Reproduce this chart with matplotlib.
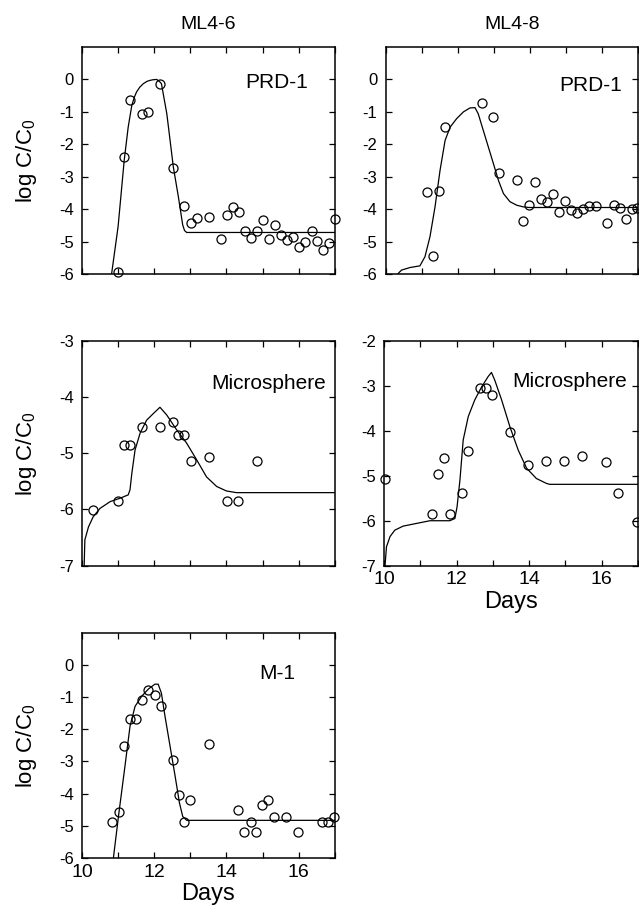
import matplotlib
matplotlib.use('Agg')
import matplotlib.pyplot as plt
from matplotlib.ticker import MultipleLocator

plt.rcParams['font.family'] = ['Liberation Sans', 'DejaVu Sans']
plt.rcParams['axes.unicode_minus'] = False

# ML4-6, PRD-1
a_day = [11.01, 11.17, 11.33, 11.66, 11.84, 12.17, 12.52, 12.83, 13.01, 13.18, 13.51,
         13.84, 14.01, 14.18, 14.34, 14.51, 14.68, 14.84, 15.00, 15.18, 15.35, 15.50,
         15.67, 15.85, 16.00, 16.18, 16.36, 16.50, 16.67, 16.83, 17.00]
a_obs = [-5.93, -2.40, -0.62, -1.08, -1.01, -0.13, -2.74, -3.89, -4.43, -4.28, -4.24,
         -4.91, -4.19, -3.94, -4.10, -4.68, -4.89, -4.68, -4.33, -4.91, -4.48, -4.80,
         -4.95, -4.86, -5.17, -5.02, -4.68, -4.98, -5.26, -5.04, -4.32]
a_fit_day = [10.82, 11.00, 11.17, 11.28, 11.38, 11.45, 11.51, 11.60, 11.70, 11.80, 11.88,
             11.97, 12.07, 12.16, 12.20, 12.35, 12.53, 12.67, 12.79, 12.84, 12.90, 17.0]
a_fit = [-6.0, -4.54, -2.49, -1.47, -0.80, -0.55, -0.39, -0.24, -0.13, -0.06, -0.03,
         -0.01, 0.0, -0.08, -0.13, -1.06, -2.70, -3.62, -4.49, -4.66, -4.72, -4.72]

# ML4-8, PRD-1
b_day = [11.14, 11.31, 11.48, 11.65, 12.67, 12.98, 13.15, 13.65, 13.81, 13.98, 14.15,
         14.31, 14.48, 14.65, 14.81, 14.98, 15.15, 15.31, 15.49, 15.66, 15.84, 16.16,
         16.33, 16.50, 16.68, 16.83, 16.99]
b_obs = [-3.48, -5.46, -3.44, -1.48, -0.72, -1.16, -2.89, -3.09, -4.37, -3.86, -3.16,
         -3.70, -3.79, -3.53, -4.10, -3.75, -4.03, -4.13, -4.00, -3.90, -3.90, -4.44,
         -3.88, -3.96, -4.32, -4.01, -3.96]
b_fit_day = [10.26, 10.44, 10.68, 10.95, 11.09, 11.23, 11.37, 11.51, 11.65, 11.79, 11.97,
             12.16, 12.34, 12.48, 12.57, 12.71, 12.85, 12.99, 13.13, 13.27, 13.45, 13.64,
             13.82, 13.98, 17.0]
b_fit = [-6.08, -5.88, -5.80, -5.75, -5.47, -4.85, -3.93, -2.80, -1.88, -1.47, -1.21,
         -1.00, -0.88, -0.87, -1.06, -1.57, -2.08, -2.59, -3.11, -3.52, -3.77, -3.88,
         -3.93, -3.95, -3.95]

# ML4-6, Microsphere
c_day = [10.31, 11.00, 11.16, 11.33, 11.66, 12.17, 12.51, 12.67, 12.83, 13.01, 13.51,
         14.01, 14.33, 14.84]
c_obs = [-6.01, -5.85, -4.85, -4.85, -4.54, -4.54, -4.44, -4.67, -4.67, -5.14, -5.06,
         -5.85, -5.85, -5.14]
c_fit_day = [10.06, 10.08, 10.18, 10.31, 10.50, 10.78, 11.05, 11.28, 11.33, 11.38, 11.47,
             11.61, 11.79, 11.98, 12.16, 12.35, 12.62, 12.90, 13.18, 13.45, 13.73, 14.00,
             14.28, 17.0]
c_fit = [-7.0, -6.54, -6.31, -6.13, -5.98, -5.86, -5.80, -5.74, -5.65, -5.36, -4.94,
         -4.64, -4.41, -4.29, -4.18, -4.32, -4.58, -4.82, -5.12, -5.42, -5.59, -5.67,
         -5.70, -5.70]

# ML4-8, Microsphere
d_day = [10.02, 11.32, 11.47, 11.65, 11.82, 12.15, 12.32, 12.64, 12.80, 12.98, 13.47,
         13.97, 14.47, 14.97, 15.46, 16.13, 16.46, 16.98]
d_obs = [-5.08, -5.86, -4.95, -4.60, -5.86, -5.38, -4.44, -3.04, -3.04, -3.20, -4.03,
         -4.77, -4.68, -4.68, -4.57, -4.70, -5.38, -6.02]
d_fit_day = [10.02, 10.06, 10.16, 10.29, 10.52, 10.89, 11.26, 11.81, 11.95, 12.01, 12.09,
             12.18, 12.32, 12.50, 12.69, 12.87, 12.96, 13.05, 13.24, 13.47, 13.70, 13.93,
             14.20, 14.48, 14.57, 17.0]
d_fit = [-7.0, -6.58, -6.35, -6.21, -6.12, -6.06, -6.00, -6.00, -5.95, -5.69, -5.09,
         -4.20, -3.68, -3.31, -3.02, -2.79, -2.70, -2.87, -3.31, -3.91, -4.43, -4.83,
         -5.06, -5.17, -5.19, -5.19]

# ML4-6, M-1
e_day = [10.84, 11.02, 11.16, 11.33, 11.51, 11.67, 11.84, 12.01, 12.18, 12.51, 12.68,
         12.83, 13.00, 13.51, 14.33, 14.50, 14.67, 14.83, 14.99, 15.16, 15.33, 15.66,
         15.99, 16.65, 16.82, 16.98]
e_obs = [-4.89, -4.58, -2.53, -1.69, -1.69, -1.10, -0.78, -0.94, -1.29, -2.96, -4.03,
         -4.89, -4.19, -2.45, -4.50, -5.19, -4.89, -5.19, -4.34, -4.19, -4.73, -4.73,
         -5.19, -4.89, -4.89, -4.73]
e_fit_day = [10.87, 11.01, 11.19, 11.33, 11.47, 11.65, 11.84, 12.02, 12.11, 12.20, 12.30,
             12.44, 12.58, 12.70, 12.79, 12.90, 17.0]
e_fit = [-6.0, -4.71, -3.15, -1.91, -1.29, -0.98, -0.75, -0.60, -0.60, -0.88, -1.60,
         -2.53, -3.46, -4.29, -4.71, -4.83, -4.83]


def panel(rect, day, obs, fit_day, fit, ylim, label, label_xy, xlabels=False):
    ax = fig.add_axes(rect)
    ax.plot(fit_day, fit, color='black', lw=0.9)
    ax.plot(day, obs, 'o', ms=6.5, mfc='none', mec='black', mew=0.9, clip_on=False)
    ax.set_xlim(10, 17)
    ax.set_ylim(*ylim)
    ax.set_yticks(range(ylim[0], ylim[1] + (0 if ylim[1] > 0 else 1)))
    ax.xaxis.set_major_locator(MultipleLocator(2))
    ax.xaxis.set_minor_locator(MultipleLocator(1))
    ax.tick_params(which='both', direction='in', top=True, right=True,
                   length=4, width=0.9)
    ax.tick_params(axis='y', labelsize=12, pad=6)
    ax.tick_params(axis='x', labelsize=14, pad=4)
    if xlabels:
        ax.set_xlabel('Days', fontsize=17, labelpad=2)
    else:
        ax.set_xticklabels([])
    for s in ax.spines.values():
        s.set_linewidth(1.1)
    ax.text(label_xy[0], label_xy[1], label, fontsize=15, ha='center', va='center')
    return ax


fig = plt.figure(figsize=(6.39, 9.09), dpi=100)

ax1 = panel([0.1283, 0.6986, 0.3955, 0.2497], a_day, a_obs, a_fit_day, a_fit,
            (-6, 1), 'PRD-1', (15.4, -0.08))
ax2 = panel([0.6036, 0.6986, 0.3944, 0.2497], b_day, b_obs, b_fit_day, b_fit,
            (-6, 1), 'PRD-1', (15.7, -0.2))
ax3 = panel([0.1283, 0.3777, 0.3955, 0.2472], c_day, c_obs, c_fit_day, c_fit,
            (-7, -3), 'Microsphere', (15.16, -3.75))
ax4 = panel([0.6014, 0.3777, 0.3966, 0.2472], d_day, d_obs, d_fit_day, d_fit,
            (-7, -2), 'Microsphere', (15.11, -2.91), xlabels=True)
ax5 = panel([0.1283, 0.0561, 0.3955, 0.2479], e_day, e_obs, e_fit_day, e_fit,
            (-6, 1), 'M-1', (15.4, -0.28), xlabels=True)

ax1.set_title('ML4-6', fontsize=14, pad=13)
ax2.set_title('ML4-8', fontsize=14, pad=13)
for ax in (ax1, ax3, ax5):
    ax.set_ylabel('log C/C$_\\mathregular{0}$', fontsize=16, labelpad=14)

fig.savefig('out.png', dpi=100)
